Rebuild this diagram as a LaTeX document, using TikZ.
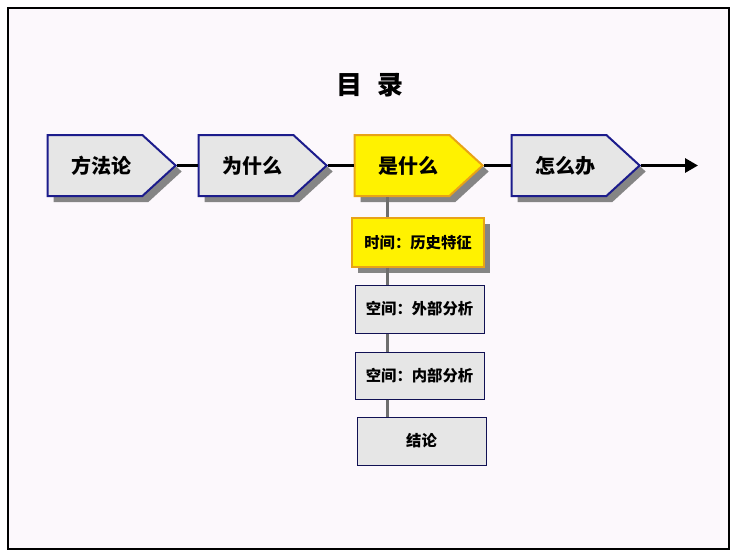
\documentclass[tikz,border=0pt]{standalone}
\usepackage{fontspec}
\newfontfamily\cjk{Noto Sans CJK SC}
\usetikzlibrary{shapes.symbols,shadows,arrows.meta}
\definecolor{bgpink}{HTML}{FCF8FC}
\definecolor{boxgray}{HTML}{E6E6E6}
\definecolor{navy}{HTML}{1C1C8C}
\definecolor{amber}{HTML}{E8A317}
\definecolor{shadegray}{HTML}{858585}
\definecolor{spinegray}{HTML}{6E6E6E}
\tikzset{
  pent/.style={signal, signal to=east, signal pointer angle=85, minimum width=96pt, minimum height=45.75pt, inner sep=0pt, fill=boxgray, draw=navy, line width=1.5pt, drop shadow={shadow xshift=4.5pt, shadow yshift=-4.5pt, fill=shadegray, opacity=1}},
  pentyel/.style={pent, fill=yellow, draw=amber},
  ptext/.style={font=\cjk\bfseries\fontsize{15}{15}\selectfont, inner sep=0pt},
  topic/.style={rectangle, minimum width=96.75pt, minimum height=36pt, inner sep=0pt, fill=boxgray, draw=navy!60!black, line width=0.75pt, font=\cjk\bfseries\fontsize{11.5}{11.5}\selectfont},
  topicyel/.style={topic, fill=yellow, draw=amber, line width=1.1pt, drop shadow={shadow xshift=4.5pt, shadow yshift=-4.5pt, fill=shadegray, opacity=1}},
}
\begin{document}
\begin{tikzpicture}[x=0.75pt,y=0.75pt,yscale=-1,xscale=1]
\useasboundingbox (0,0) rectangle (738,558);
\draw [fill=bgpink][line width=1.1pt] (8,8) rectangle (729,549);
\node [font=\cjk\bfseries\fontsize{19.5}{19.5}\selectfont] (title) at (370,85) {目\hspace{0.55em}录};
\node [pent] (p1) at (95,165.5) {};
\node [pent] (p2) at (246,165.5) {};
\node [pentyel] (p3) at (402,165.5) {};
\node [pent] (p4) at (559,165.5) {};
\node [ptext] (t1) at ([shift={(6,0)}]p1.center) {方法论};
\node [ptext] (t2) at ([shift={(6,0)}]p2.center) {为什么};
\node [ptext] (t3) at ([shift={(6,0)}]p3.center) {是什么};
\node [ptext] (t4) at ([shift={(6,0)}]p4.center) {怎么办};
\coordinate (end) at (698,165.5);
\coordinate (spine) at (387,0);
\draw [line width=2.25pt] (p1.east) -- (p2.west);
\draw [line width=2.25pt] (p2.east) -- (p3.west);
\draw [line width=2.25pt] (p3.east) -- (p4.west);
\draw [line width=2.25pt, -{Triangle[length=9.75pt,width=10.5pt]}] (p4.east) -- (end);
\node [topicyel, minimum width=99pt, minimum height=36.75pt] (b1) at (418,242.5) {时间：历史特征};
\node [topic] (b2) at (419.5,309) {空间：外部分析};
\node [topic, minimum height=35.25pt] (b3) at (419.5,375.5) {空间：内部分析};
\node [topic] (b4) at (421.5,441) {结论};
\draw [spinegray, line width=2.25pt] (p3.south -| spine) -- (b1.north -| spine);
\draw [spinegray, line width=2.25pt] (b1.south -| spine) -- (b2.north -| spine);
\draw [spinegray, line width=2.25pt] (b2.south -| spine) -- (b3.north -| spine);
\draw [spinegray, line width=2.25pt] (b3.south -| spine) -- (b4.north -| spine);
\end{tikzpicture}
\end{document}
